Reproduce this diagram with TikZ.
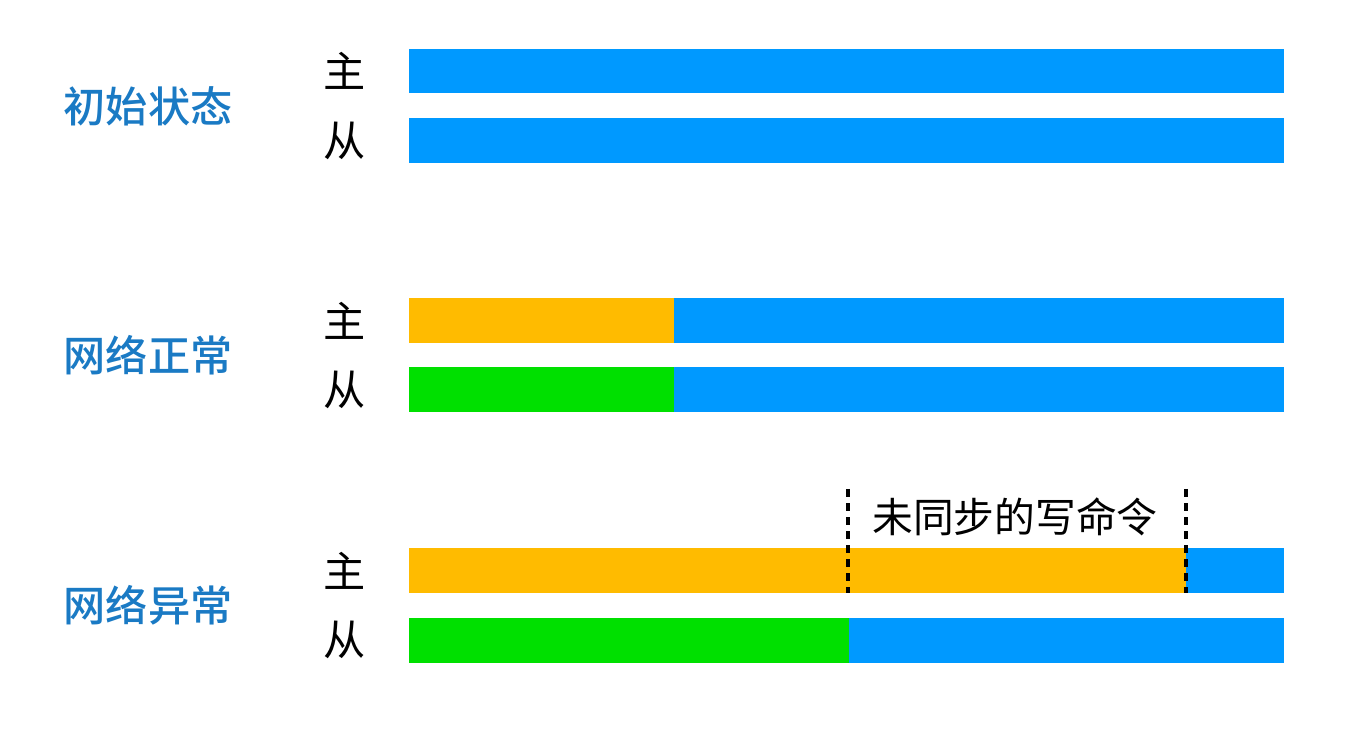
\documentclass[tikz,border=0pt]{standalone}
\usepackage{fontspec}
\setmainfont{Noto Sans CJK SC}
\newfontfamily\statefont{Noto Sans CJK SC Medium}
\usepackage{tikz}
\usetikzlibrary{positioning, calc}
\definecolor{syncblue}{RGB}{0, 153, 255}
\definecolor{writeorange}{RGB}{255, 187, 0}
\definecolor{replgreen}{RGB}{0, 224, 0}
\definecolor{titleblue}{RGB}{26, 122, 196}

\begin{document}
\begin{tikzpicture}
    \tikzset{
        role/.style={font=\fontsize{12}{14}\selectfont, text=black},
        state/.style={font=\fontsize{12}{14}\selectfont\statefont, text=titleblue},
        gap/.style={line width=1pt, dash pattern=on 2.2pt off 1.8pt},
    }
    \useasboundingbox (0,0) rectangle (13.56,7.31);

    % Initial state
    \node[state] (init) at (1.48,6.25) {初始状态};
    \node[role] (m1) at (3.45,6.60) {主};
    \node[role] (s1) at (3.45,5.90) {从};
    \fill[syncblue] (4.09,6.38) rectangle (12.84,6.82);
    \fill[syncblue] (4.09,5.68) rectangle (12.84,6.13);

    % Network normal
    \node[state] (normal) at (1.48,3.76) {网络正常};
    \node[role] (m2) at (3.45,4.10) {主};
    \node[role] (s2) at (3.45,3.41) {从};
    \fill[writeorange] (4.09,3.88) rectangle (6.74,4.33);
    \fill[syncblue] (6.74,3.88) rectangle (12.84,4.33);
    \fill[replgreen] (4.09,3.19) rectangle (6.74,3.64);
    \fill[syncblue] (6.74,3.19) rectangle (12.84,3.64);

    % Network failure
    \node[state] (broken) at (1.48,1.26) {网络异常};
    \node[role] (m3) at (3.45,1.60) {主};
    \node[role] (s3) at (3.45,0.91) {从};
    \fill[writeorange] (4.09,1.38) rectangle (11.86,1.83);
    \fill[syncblue] (11.86,1.38) rectangle (12.84,1.83);
    \fill[replgreen] (4.09,0.68) rectangle (8.49,1.13);
    \fill[syncblue] (8.49,0.68) rectangle (12.84,1.13);

    % Unsynced range
    \coordinate (lost-a) at (8.48,2.42);
    \coordinate (lost-b) at (11.86,2.42);
    \draw[gap] (lost-a) -- (8.48,1.38);
    \draw[gap] (lost-b) -- (11.86,1.38);
    \node[role, font=\fontsize{11.6}{14}\selectfont] (lost) at (10.15,2.14) {未同步的写命令};
\end{tikzpicture}
\end{document}
